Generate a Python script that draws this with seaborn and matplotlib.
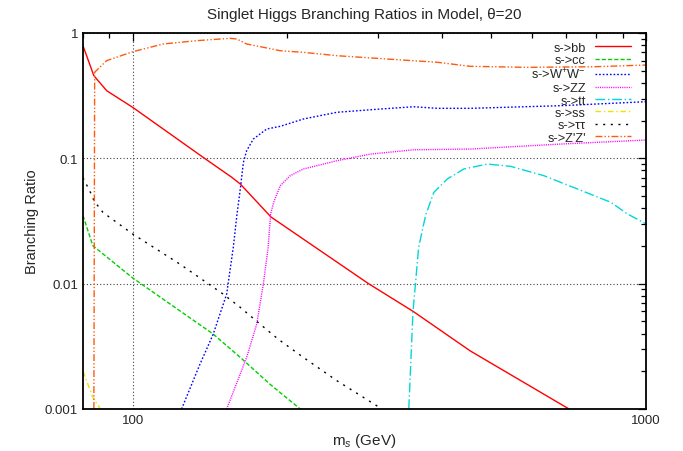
import matplotlib
matplotlib.use("Agg")
import matplotlib.pyplot as plt
import matplotlib.ticker as mticker
import seaborn as sns
import pandas as pd

# ---- data ----
bb_x = [80, 84, 89, 100, 138, 156, 162, 186, 288, 352, 455, 708]
bb_y = [0.79, 0.456, 0.346, 0.255, 0.100, 0.0705, 0.0624, 0.034, 0.0100, 0.0060, 0.0029, 0.0010]

cc_x = [80, 83.6, 100, 143.5, 162, 185, 212]
cc_y = [0.035, 0.0201, 0.0111, 0.00396, 0.00258, 0.00158, 0.0010]

ww_x = [124.5, 135.2, 143.5, 152.4, 157, 159.5, 162, 164.3, 166.7, 171.8, 182.4,
        193.8, 215, 250, 303.6, 352.7, 392, 455, 682, 1000]
ww_y = [0.001, 0.00228, 0.00396, 0.00826, 0.0195, 0.0348, 0.0569, 0.0929, 0.115, 0.1426, 0.1714,
        0.180, 0.206, 0.233, 0.2474, 0.258, 0.2506, 0.2506, 0.263, 0.283]

zz_x = [152.4, 166.7, 174.4, 179.7, 183.6, 185.6, 188.2, 193.8, 202.6, 215, 250, 290,
        352.7, 455, 682, 1000]
zz_y = [0.001, 0.00258, 0.00476, 0.01, 0.0195, 0.036, 0.0446, 0.0604, 0.0726, 0.0822, 0.0957, 0.108,
        0.117, 0.1186, 0.130, 0.140]

tt_x = [345, 351.6, 355.5, 360.6, 372, 386, 410, 441.5, 490.8, 545, 633, 735.5, 854, 920, 1000]
tt_y = [0.001, 0.006, 0.01, 0.0195, 0.035, 0.0535, 0.0684, 0.0822, 0.090, 0.0863, 0.0726, 0.0569,
        0.0446, 0.036, 0.030]

ss_x = [80, 83.6, 86.5]
ss_y = [0.0020, 0.00124, 0.0010]

tau_x = [80, 83.2, 84, 87.5, 100, 123.5, 139.3, 150, 162, 177, 192, 215, 250, 299, 304]
tau_y = [0.070, 0.051, 0.046, 0.037, 0.0249, 0.01434, 0.0102, 0.00826, 0.00647, 0.00476, 0.00361,
         0.00258, 0.00168, 0.00106, 0.0010]

zpzp_x = [84.0, 84.3, 88.9, 100, 114.6, 133, 154.6, 159.5, 166.7, 179.7, 193.8, 215, 250, 313,
          392, 455, 587.6, 792.6, 1000]
zpzp_y = [0.001, 0.486, 0.601, 0.709, 0.817, 0.868, 0.907, 0.896, 0.817, 0.769, 0.722, 0.701, 0.659,
          0.62, 0.584, 0.542, 0.532, 0.538, 0.555]

labels = ["s->bb", "s->cc", r"s->W$^{+}$W$^{-}$", "s->ZZ", "s->tt", "s->ss", "s->ττ", "s->Z'Z'"]
colors = ["#ff0000", "#00d000", "#0000ff", "#ff00ff", "#00d8d8", "#e6e600", "#000000", "#ff5a10"]
styles = ["-", (0, (3, 1.5)), (0, (1.2, 1.4)), (0, (0.8, 0.8)), (0, (7, 2, 1, 2)),
          (0, (4, 2, 1, 2)), (0, (1.5, 4)), (0, (5, 1.5, 1, 1.5, 1, 1.5))]

series = [(bb_x, bb_y), (cc_x, cc_y), (ww_x, ww_y), (zz_x, zz_y), (tt_x, tt_y),
          (ss_x, ss_y), (tau_x, tau_y), (zpzp_x, zpzp_y)]

sns.set_style("white")
plt.rcParams["font.family"] = ["Liberation Sans", "DejaVu Sans"]
plt.rcParams["mathtext.fontset"] = "custom"
plt.rcParams["mathtext.rm"] = "Liberation Sans"
plt.rcParams["mathtext.it"] = "Liberation Sans:italic"

fig = plt.figure(figsize=(6.83, 4.52), dpi=100)
ax = fig.add_axes([83 / 683, 1 - 410 / 452, (646 - 83) / 683, (410 - 34) / 452])

for (xs, ys), lab, col, ls in zip(series, labels, colors, styles):
    df = pd.DataFrame({"x": xs, "y": ys})
    sns.lineplot(data=df, x="x", y="y", ax=ax, color=col, label=lab,
                 estimator=None, sort=False, linewidth=1.0, linestyle=ls)

ax.set_xscale("log")
ax.set_yscale("log")
ax.set_xlim(80, 1000)
ax.set_ylim(0.001, 1)

fmt = mticker.FuncFormatter(lambda v, p: "%g" % v)
ax.xaxis.set_major_formatter(fmt)
ax.yaxis.set_major_formatter(fmt)
ax.xaxis.set_minor_formatter(mticker.NullFormatter())
ax.yaxis.set_minor_formatter(mticker.NullFormatter())
ax.xaxis.set_minor_locator(mticker.LogLocator(base=10, subs=range(2, 10), numticks=20))
ax.yaxis.set_minor_locator(mticker.LogLocator(base=10, subs=range(2, 10), numticks=20))

ax.tick_params(which="both", direction="in", top=True, right=True, labelsize=9.5,
               color="black", width=0.9)
ax.tick_params(which="major", length=6)
ax.tick_params(which="minor", length=3.5)

ax.grid(True, which="major", linestyle=(0, (1, 2)), color="#444444", linewidth=0.8)
ax.grid(False, which="minor")
for sp in ax.spines.values():
    sp.set_color("black")
    sp.set_linewidth(1.3)

ax.set_title("Singlet Higgs Branching Ratios in Model, θ=20", fontsize=11, pad=11)
ax.set_xlabel("m$_{s}$ (GeV)", fontsize=11)
ax.set_ylabel("Branching Ratio", fontsize=10.5)

leg = ax.legend(loc="upper right", frameon=False, markerfirst=False, fontsize=9.2,
                labelspacing=0.03, handlelength=2.8, handletextpad=0.7,
                borderaxespad=0.8, borderpad=0.4)
leg.set_bbox_to_anchor((1.0, 1.017), transform=ax.transAxes)

fig.savefig("out.png", dpi=100)
